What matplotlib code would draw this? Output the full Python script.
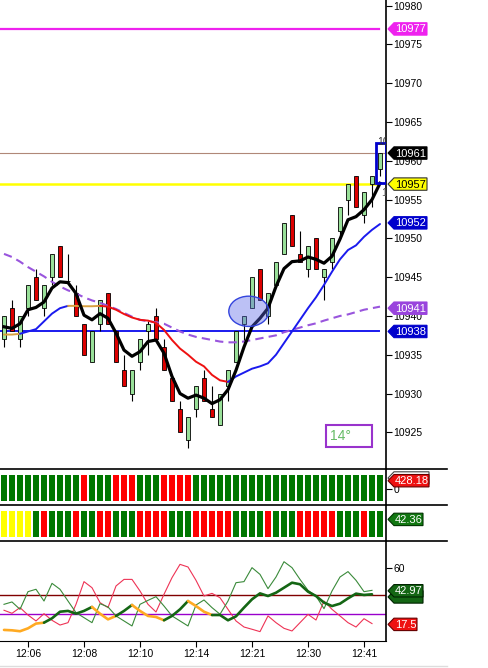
import matplotlib
matplotlib.use("Agg")
import matplotlib.pyplot as plt
import matplotlib.transforms as mtransforms
from matplotlib.patches import Rectangle, Ellipse, Polygon
from matplotlib.lines import Line2D
import numpy as np

plt.rcParams['font.family'] = ['Liberation Sans', 'DejaVu Sans']

# candles
opens = [10937, 10941, 10937, 10941, 10945, 10941, 10945, 10949, 10944.5, 10943,
         10939, 10934, 10939, 10943, 10938, 10933, 10930, 10934, 10938, 10940,
         10936, 10932, 10928, 10924, 10928, 10932, 10928, 10926, 10931, 10934,
         10939, 10941, 10946, 10940, 10944, 10948, 10953, 10948, 10946, 10950,
         10945, 10947, 10951, 10955, 10958, 10953, 10957, 10959]
highs = [10940, 10942, 10940, 10944, 10946, 10944, 10948, 10949, 10948, 10944,
         10939, 10938, 10942, 10943, 10938, 10935, 10933, 10937, 10939.3, 10941,
         10937, 10932, 10929, 10927, 10931, 10933, 10931, 10930, 10933, 10938,
         10940, 10945, 10946, 10943, 10947, 10952, 10953, 10951, 10949, 10950,
         10946, 10950, 10954, 10957, 10958, 10956, 10958, 10961]
lows = [10936, 10938, 10936, 10940, 10942, 10940, 10944, 10945, 10944.2, 10940,
        10935, 10934, 10938, 10939, 10934, 10931, 10929, 10933, 10935, 10937,
        10933, 10929, 10925, 10923, 10927, 10929, 10927, 10926, 10929, 10934,
        10936.5, 10941, 10942, 10939, 10944, 10948, 10949, 10947, 10945, 10946,
        10942, 10946, 10950, 10953, 10954, 10952, 10954, 10958]
closes = [10940, 10938, 10940, 10944, 10942, 10944, 10948, 10945, 10944.5, 10940,
          10935, 10938, 10942, 10939, 10934, 10931, 10933, 10937, 10939, 10937,
          10933, 10929, 10925, 10927, 10931, 10929, 10927, 10930, 10933, 10938,
          10940, 10945, 10942, 10943, 10947, 10952, 10949, 10947, 10949, 10946,
          10946, 10950, 10954, 10957, 10954, 10956, 10958, 10961]

# fast average (black)
fast_ma = [10938.6, 10938.4, 10939.0, 10940.8, 10941.1, 10941.8, 10943.6, 10944.4, 10944.3, 10942.9,
           10940.1, 10939.5, 10940.3, 10939.7, 10937.8, 10935.6, 10934.8, 10935.4, 10936.7, 10936.9,
           10935.2, 10932.2, 10930.0, 10929.4, 10929.8, 10929.4, 10928.7, 10929.2, 10930.5, 10933.0,
           10936.0, 10938.6, 10939.7, 10941.0, 10943.8, 10946.1, 10947.0, 10947.1, 10947.6, 10947.3,
           10946.8, 10947.7, 10949.9, 10952.4, 10952.8, 10953.7, 10955.0, 10957.1]
# trend average (blue / red / orange)
trend_ma = [10937.6, 10937.6, 10937.7, 10938.0, 10938.3, 10939.3, 10940.3, 10941.0, 10941.3, 10941.3,
            10941.25, 10941.25, 10941.3, 10941.2, 10940.8, 10940.25, 10939.8, 10939.5, 10939.4, 10939.1,
            10938.2, 10936.9, 10935.8, 10935.0, 10934.1, 10933.5, 10932.4, 10931.7, 10931.5, 10932.2,
            10932.7, 10933.2, 10933.5, 10933.9, 10935.0, 10936.5, 10938.0, 10939.5, 10941.0, 10942.4,
            10944.0, 10945.7, 10947.3, 10948.5, 10949.1, 10950.2, 10951.1, 10951.85]
trend_state = list("OO" + "B" * 6 + "O" * 4 + "R" * 16 + "B" * 19)
# slow average (purple dashed)
slow_ma = [10948.0, 10947.6, 10947.0, 10946.3, 10945.7, 10945.1, 10944.4, 10943.8, 10943.3, 10942.9,
           10942.4, 10942.0, 10941.7, 10941.3, 10940.9, 10940.4, 10939.9, 10939.5, 10939.3, 10939.2,
           10939.0, 10938.5, 10938.0, 10937.6, 10937.3, 10937.1, 10936.9, 10936.7, 10936.6, 10936.6,
           10936.7, 10936.9, 10937.1, 10937.3, 10937.5, 10937.9, 10938.2, 10938.5, 10938.8, 10939.05,
           10939.4, 10939.7, 10940.0, 10940.2, 10940.5, 10940.8, 10941.0, 10941.2]

# colour strips
strip1 = list("G" * 10 + "R" + "GGG" + "RRR" + "GGG" + "RRRR" + "G" * 24)
strip2 = list("YYYY" + "G" + "R" + "GGG" + "R" + "GG" + "RR" + "GGG" + "RRRR" + "GGG"
              + "RRRRR" + "GGGG" + "R" + "GGG" + "RRRRR" + "GGG" + "R" + "GG")

# oscillator
osc_red = [28.2, 25.9, 30.2, 24.6, 20.1, 25.6, 20.6, 17.0, 18.8, 32.7,
           49.9, 45.3, 34.0, 30.2, 46.6, 51.6, 51.6, 42.8, 32.7, 26.9,
           40.3, 52.9, 63.0, 61.0, 50.9, 39.0, 41.0, 37.7, 28.9, 20.1,
           15.5, 13.8, 12.0, 23.9, 18.8, 14.5, 12.5, 18.8, 25.1, 20.8,
           35.2, 28.9, 23.9, 18.8, 15.5, 21.8, 18.1]
osc_green = [32.7, 34.5, 28.9, 42.3, 44.1, 35.2, 48.6, 44.1, 35.2, 26.4,
             22.6, 18.8, 33.2, 30.7, 23.9, 20.1, 16.3, 32.7, 35.7, 38.5,
             31.4, 23.9, 20.1, 16.3, 32.2, 36.0, 30.2, 25.2, 35.2, 49.1,
             49.9, 60.5, 55.4, 44.6, 53.4, 65.0, 60.5, 51.6, 43.3, 39.0,
             29.4, 42.8, 53.4, 57.5, 50.9, 42.3, 43.3]
osc_avg = [13.3, 13.0, 12.3, 14.5, 18.1, 18.8, 22.1, 27.1, 27.7, 25.6,
           27.7, 30.7, 25.6, 21.3, 23.9, 27.7, 32.2, 27.7, 23.9, 23.1,
           20.6, 23.9, 28.9, 35.2, 31.4, 27.1, 24.6, 24.6, 20.6, 23.6,
           30.2, 36.5, 41.0, 39.0, 41.5, 45.3, 49.1, 47.9, 42.3, 39.0,
           34.0, 31.4, 33.2, 37.2, 40.8, 39.8, 40.3]
osc_state = list("O" * 5 + "G" * 6 + "O" * 3 + "G" * 2 + "O" * 4 + "G" * 3 + "O" * 3 + "G" * 20)

tick_pos = [3, 10, 17, 24, 31, 38, 45]
tick_labels = ["12:06", "12:08", "12:10", "12:14", "12:21", "12:30", "12:41"]

W, H = 489, 668
fig = plt.figure(figsize=(W / 100, H / 100), dpi=100)
fig.patch.set_facecolor("white")

axw = 386 / W
ax = fig.add_axes([0, 1 - 469 / H, axw, 469 / H])
ax1 = fig.add_axes([0, 1 - 505 / H, axw, 36 / H])
ax2 = fig.add_axes([0, 1 - 541 / H, axw, 36 / H])
ax3 = fig.add_axes([0, 1 - 641 / H, axw, 100 / H])

for a in (ax, ax1, ax2, ax3):
    a.set_xlim(-0.5, 47.75)
    for s in ("top", "left", "bottom"):
        a.spines[s].set_visible(False)
    a.spines["right"].set_linewidth(1.2)
    a.yaxis.tick_right()
    a.tick_params(axis="y", direction="out", length=4, width=0.8, pad=1.5, labelsize=7.5)
    a.tick_params(axis="x", bottom=False, labelbottom=False)
ax3.spines["bottom"].set_visible(True)

# ---- main panel
ax.set_ylim(10920.27, 10980.73)
ax.set_yticks(np.arange(10925, 10981, 5))

ax.plot([-0.5, 46.9], [10977, 10977], color="#ee22ee", lw=1.6, zorder=1)
ax.plot([-0.5, 47.75], [10961, 10961], color="#b08878", lw=0.8, zorder=1)
ax.plot([-0.5, 46.6], [10957, 10957], color="#ffff00", lw=1.8, zorder=1)
ax.plot([-0.5, 46.9], [10938, 10938], color="#1a1aee", lw=1.4, zorder=1)

for i in range(len(opens)):
    o, h, l, c = opens[i], highs[i], lows[i], closes[i]
    ax.vlines(i, l, h, color="black", lw=0.8, zorder=2)
    col = "#99e099" if c >= o else "#dd0000"
    ax.add_patch(Rectangle((i - 0.29, min(o, c)), 0.58, abs(c - o), fc=col, ec="black", lw=0.6, zorder=3))

xs = np.arange(len(fast_ma))
ax.plot(xs, slow_ma, color="#9955dd", lw=1.5, ls=(0, (4, 2.5)), zorder=4)

trend_cols = {"B": "#1a1aee", "R": "#ee1111", "O": "#d8a040"}
start = 0
for k in range(1, len(trend_state) + 1):
    if k == len(trend_state) or trend_state[k] != trend_state[start]:
        ax.plot(xs[start:k + 1], trend_ma[start:k + 1], color=trend_cols[trend_state[start]],
                lw=1.4, solid_capstyle="round", zorder=4)
        start = k
ax.plot(xs, fast_ma, color="black", lw=2.3, solid_joinstyle="round", zorder=5)

ax.add_patch(Ellipse((30.6, 10940.6), 5.0, 3.9, fc=(0.35, 0.4, 0.9, 0.4), ec="#3344dd", lw=1, zorder=6))
ax.add_patch(Rectangle((46.46, 10957.1), 1.25, 5.15, fill=False, ec="#0000cc", lw=2, zorder=6))
ax.add_patch(Rectangle((40.2, 10923.1), 5.85, 2.8, fill=False, ec="#9933cc", lw=1.5, zorder=6))
ax.text(40.75, 10924.5, "14°", color="#66bb66", fontsize=10, va="center", ha="left", zorder=7)
ax.text(46.7, 10962.4, "10", color="#333333", fontsize=7.5, va="center", ha="left", clip_on=True, zorder=7)
ax.text(47.1, 10955.9, "1", color="#555555", fontsize=7.5, va="center", ha="left", clip_on=True, zorder=7)


def tag(a, y, text, fc, tc="white", right=0.41, ec=None, coords="data"):
    base = a.transData if coords == "data" else a.transAxes
    base = mtransforms.blended_transform_factory(a.transAxes, base)
    tr = fig.dpi_scale_trans + mtransforms.ScaledTranslation(1, y, base)
    h = 0.062
    poly = Polygon([(0.02, 0), (0.08, h), (right, h), (right, -h), (0.08, -h)], closed=True,
                   transform=tr, fc=fc, ec=ec or fc, lw=0.8, clip_on=False, zorder=20)
    a.add_patch(poly)
    if text:
        a.text(0.09, -0.005, text, transform=tr, color=tc, fontsize=8, va="center", ha="left",
               clip_on=False, zorder=21)


tag(ax, 10977, "10977", "#ee22ee")
tag(ax, 10961, "10961", "black")
tag(ax, 10957, "10957", "#ffff00", tc="black", ec="#333333")
tag(ax, 10952, "10952", "#0000cc")
tag(ax, 10941, "10941", "#9944dd")
tag(ax, 10938, "10938", "#0000cc")

# ---- strips
strip_cols = {"G": "#007700", "R": "#ff0000", "Y": "#ffff00"}
for a, data, b0, b1 in ((ax1, strip1, 0.11, 0.83), (ax2, strip2, 0.12, 0.84)):
    a.set_ylim(0, 1)
    for i, s in enumerate(data):
        a.add_patch(Rectangle((i - 0.42, b0), 0.84, b1 - b0, fc=strip_cols[s], ec="none"))
ax1.set_yticks([0.436])
ax1.set_yticklabels(["0"])
ax2.set_yticks([])
tag(ax1, 0.75, "", "white", ec="#444444", right=0.43, coords="axes")
tag(ax1, 0.675, "428.18", "#ee1111", right=0.43, ec="#660000", coords="axes")
tag(ax2, 0.60, "42.36", "#117711", right=0.37, ec="#003300", coords="axes")

# ---- oscillator
ax3.set_ylim(4.9, 80.7)
ax3.set_yticks([60])
ax3.plot([-0.5, 47.75], [40, 40], color="#800000", lw=1, zorder=1)
ax3.plot([-0.5, 47.75], [25, 25], color="#9900cc", lw=1, zorder=1)
xo = np.arange(len(osc_red))
ax3.plot(xo, osc_red, color="#ee3355", lw=0.8, zorder=2)
ax3.plot(xo, osc_green, color="#3a8a3a", lw=0.8, zorder=2)
osc_cols = {"G": "#146614", "O": "#ffaa22"}
start = 0
for k in range(1, len(osc_state) + 1):
    if k == len(osc_state) or osc_state[k] != osc_state[start]:
        ax3.plot(xo[start:k + 1], osc_avg[start:k + 1], color=osc_cols[osc_state[start]],
                 lw=1.9, solid_capstyle="round", zorder=3)
        start = k
tag(ax3, 38.3, "", "#146614", ec="#002200", right=0.37)
tag(ax3, 42.97, "42.97", "#146614", ec="#002200", right=0.37)
tag(ax3, 17.5, "17.5", "#ee1111", ec="#660000", right=0.31)

ax3.set_xticks(tick_pos)
ax3.set_xticklabels(tick_labels)
ax3.tick_params(axis="x", bottom=True, labelbottom=True, direction="out", length=4, width=0.8,
                pad=2, labelsize=7.5)

# panel separators
for ypx in (469, 505, 541):
    fig.add_artist(Line2D([0, 447 / W], [1 - ypx / H, 1 - ypx / H], transform=fig.transFigure,
                          color="black", lw=1.2))
fig.add_artist(Line2D([0, 447 / W], [1 - 666 / H, 1 - 666 / H], transform=fig.transFigure,
                      color="#dddddd", lw=1))

fig.savefig("out.png", dpi=100)
